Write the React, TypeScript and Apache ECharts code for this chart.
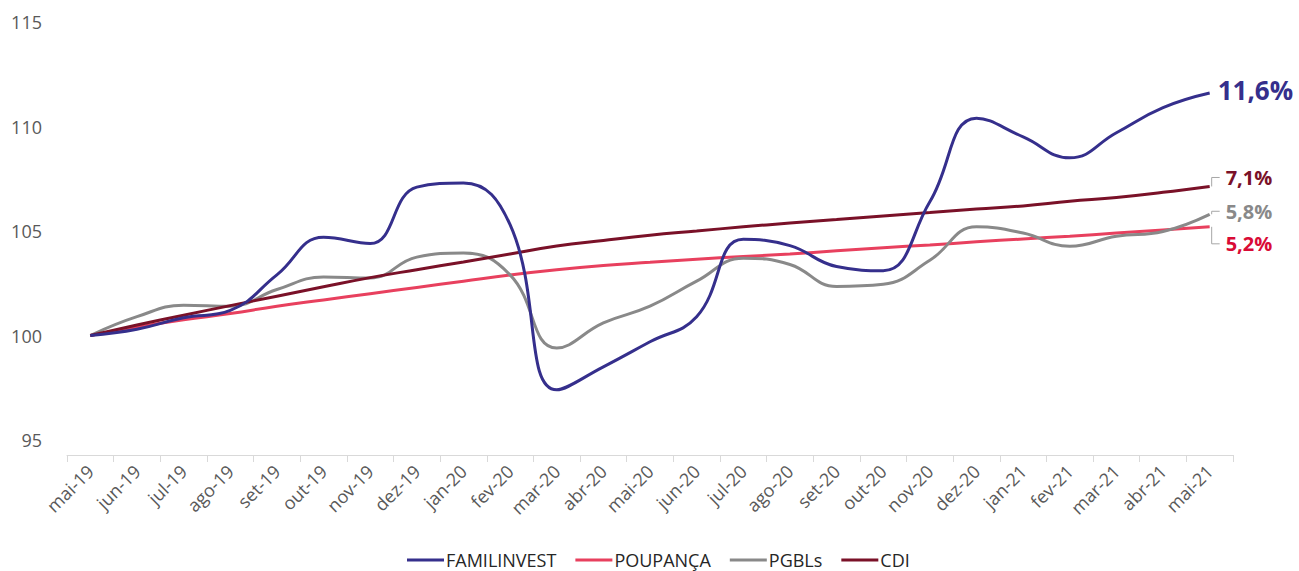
import React, { useEffect, useRef } from "react";
import * as echarts from "echarts";

const categories = [
  "mai-19", "jun-19", "jul-19", "ago-19", "set-19", "out-19", "nov-19", "dez-19",
  "jan-20", "fev-20", "mar-20", "abr-20", "mai-20", "jun-20", "jul-20", "ago-20",
  "set-20", "out-20", "nov-20", "dez-20", "jan-21", "fev-21", "mar-21", "abr-21", "mai-21",
];

const familinvest = [
  100, 100.3, 100.85, 101.2, 102.9, 104.7, 104.4, 107.1, 107.3, 105.3, 97.4, 98.5, 99.7,
  100.9, 104.6, 104.3, 103.3, 103.1, 106.4, 110.4, 109.5, 108.5, 109.7, 110.9, 111.6,
];
const poupanca = [
  100, 100.4, 100.75, 101.05, 101.4, 101.7, 102.0, 102.3, 102.6, 102.9, 103.15, 103.35,
  103.5, 103.65, 103.78, 103.9, 104.05, 104.2, 104.33, 104.48, 104.62, 104.75, 104.9,
  105.05, 105.2,
];
const pgbls = [
  100, 100.9, 101.45, 101.4, 102.2, 102.8, 102.75, 103.75, 103.95, 102.9, 99.4, 100.6,
  101.4, 102.6, 103.7, 103.4, 102.35, 102.45, 103.6, 105.2, 104.9, 104.27, 104.75, 104.98,
  105.8,
];
const cdi = [
  100, 100.5, 100.97, 101.43, 101.88, 102.33, 102.77, 103.15, 103.52, 103.9, 104.28,
  104.55, 104.8, 105.0, 105.2, 105.38, 105.55, 105.72, 105.88, 106.05, 106.2, 106.42,
  106.6, 106.85, 107.13,
];

const seriesNames = ["FAMILINVEST", "POUPANÇA", "PGBLs", "CDI"];
const endTexts = ["11,6%", "5,2%", "5,8%", "7,1%"];
const yTicks = { min: 95, max: 115, interval: 5 };

const FONT = "'Open Sans', 'Noto Sans', sans-serif";

export default function App() {
  const ref = useRef<HTMLDivElement>(null);

  useEffect(() => {
    if (!ref.current) return;
    const chart = echarts.init(ref.current, undefined, { renderer: "svg" });
    const colors = ["#352f8c", "#e8405e", "#898989", "#7a1128"];
    const labelColors = ["#352f8c", "#d90b36", "#898989", "#7a1128"];
    const datas = [familinvest, poupanca, pgbls, cdi];
    const offsets = [
      [3, -3],
      [11, 17],
      [11, -3],
      [11, -9],
    ];
    const sizes = [26, 20, 20, 20];

    chart.setOption({
      animation: false,
      textStyle: { fontFamily: FONT },
      grid: { left: 67, right: 66, top: 22, bottom: 131 },
      legend: {
        top: 546,
        left: 402,
        itemWidth: 37,
        itemHeight: 3,
        itemGap: 19,
        icon: "rect",
        textStyle: { fontSize: 18, color: "#262626", fontFamily: FONT, padding: [0, 0, 0, -3] },
        data: seriesNames,
      },
      xAxis: {
        type: "category",
        data: categories,
        boundaryGap: true,
        offset: 15,
        axisLine: { lineStyle: { color: "#d9d9d9", width: 1 } },
        axisTick: { show: true, length: 7, lineStyle: { color: "#d9d9d9" } },
        axisLabel: {
          rotate: 45,
          fontSize: 18,
          color: "#595959",
          margin: 13,
          interval: 0,
          fontFamily: FONT,
        },
      },
      yAxis: {
        type: "value",
        min: yTicks.min,
        max: yTicks.max,
        interval: yTicks.interval,
        splitLine: { show: false },
        axisLine: { show: false },
        axisTick: { show: false },
        axisLabel: { fontSize: 18, color: "#595959", margin: 25, fontFamily: FONT },
      },
      series: datas.map((d, i) => ({
        name: seriesNames[i],
        type: "line",
        data: d,
        smooth: 0.45,
        showSymbol: false,
        symbol: "none",
        z: i === 0 ? 5 : 3,
        lineStyle: { color: colors[i], width: 3 },
        itemStyle: { color: colors[i] },
        endLabel: {
          show: true,
          formatter: endTexts[i],
          color: labelColors[i],
          fontSize: sizes[i],
          fontWeight: "bold",
          fontFamily: FONT,
          offset: offsets[i],
          distance: 5,
        },
      })),
    });

    // connectors for the end labels (computed from axis scale)
    const last = categories.length - 1;
    const conn: any[] = [];
    const targets: [number[], number][] = [
      [cdi, -9],
      [pgbls, -3],
      [poupanca, 17],
    ];
    targets.forEach(([arr, dy]) => {
      const p = chart.convertToPixel({ gridIndex: 0 }, [last, arr[last]]) as number[];
      const x0 = p[0] + 2;
      const y1 = p[1] + dy;
      conn.push({
        type: "polyline",
        shape: { points: [[x0, p[1]], [x0, y1], [x0 + 8, y1]] },
        style: { stroke: "#a6a6a6", lineWidth: 1, fill: "none" },
        z: 10,
      });
    });
    chart.setOption({ graphic: conn });

    return () => chart.dispose();
  }, []);

  return <div ref={ref} style={{ width: 1299, height: 571, position: "absolute", left: 0, top: 0 }} />;
}
